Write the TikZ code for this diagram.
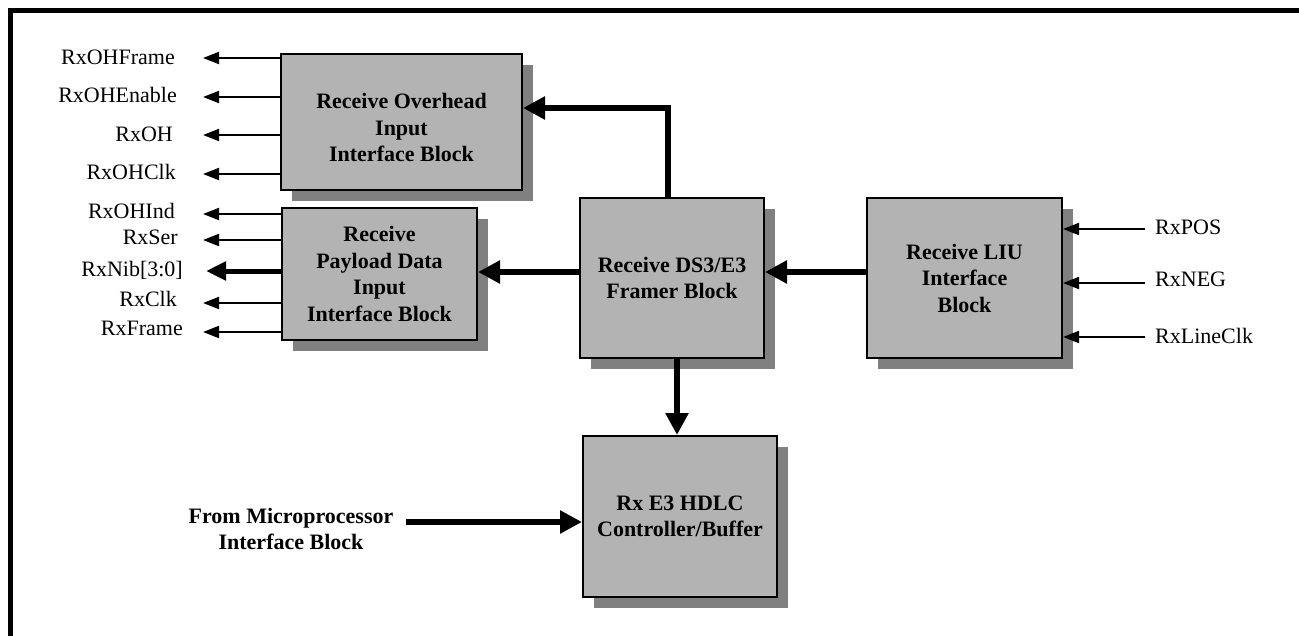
\documentclass[tikz,border=0pt]{standalone}
\usepackage{fontspec}
\setmainfont{Liberation Serif}
\usetikzlibrary{arrows.meta,shadows}
\definecolor{boxgray}{RGB}{179,179,179}
\definecolor{shadowgray}{RGB}{128,128,128}
\begin{document}
\begin{tikzpicture}[x=1pt,y=-1pt,
  blk/.style={draw=black, line width=2pt, fill=boxgray, inner sep=0pt,
    font=\fontsize{22}{26.5}\selectfont\bfseries, align=center,
    drop shadow={shadow xshift=11pt, shadow yshift=-11pt, fill=shadowgray, opacity=1}},
  btxt/.style={inner sep=0pt, font=\fontsize{22}{26.5}\selectfont\bfseries, align=center},
  sig/.style={inner sep=0pt, font=\fontsize{22}{26.5}\selectfont, text height=14.5pt, text depth=0pt},
  thinarr/.style={line width=2pt, -{Triangle[length=16pt,width=12pt]}},
  thickarr/.style={line width=6pt, -{Triangle[length=22pt,width=22pt]}},
  thickline/.style={line width=6pt}]
\useasboundingbox (0,0) rectangle (1299,635);
% frame
\draw[line width=5.5pt] (10.7,640) -- (10.7,10.7) -- (1305,10.7);

% blocks
\node[blk, minimum width=241pt, minimum height=136pt] (oh) at (401.5,122) {};
\node[btxt] (ohT) at (401.5,127.5) {Receive Overhead\\Input\\Interface Block};
\node[blk, minimum width=195pt, minimum height=132pt] (pl) at (379.5,274) {Receive\\Payload Data\\Input\\Interface Block};
\node[blk, minimum width=184pt, minimum height=160pt] (fr) at (672,278) {Receive DS3/E3\\Framer Block};
\node[blk, minimum width=195pt, minimum height=160pt] (liu) at (964.5,278) {Receive LIU\\Interface\\Block};
\node[blk, minimum width=194pt, minimum height=161pt] (hd) at (680,516.5) {Rx E3 HDLC\\Controller/Buffer};

% overhead outputs
\node[sig, anchor=east] (l1) at (175,57) {RxOHFrame};
\node[sig, anchor=east] (l2) at (177,95) {RxOHEnable};
\node[sig, anchor=east] (l3) at (173,134) {RxOH};
\node[sig, anchor=east] (l4) at (176,172) {RxOHClk};
\coordinate (t1) at (203,58);
\coordinate (t2) at (203,97);
\coordinate (t3) at (203,135);
\coordinate (t4) at (203,174);
\draw[thinarr] (oh.west |- t1) -- (t1);
\draw[thinarr] (oh.west |- t2) -- (t2);
\draw[thinarr] (oh.west |- t3) -- (t3);
\draw[thinarr] (oh.west |- t4) -- (t4);

% payload outputs
\node[sig, anchor=east] (p1) at (175,211) {RxOHInd};
\node[sig, anchor=east] (p2) at (178,237) {RxSer};
\node[sig, anchor=east] (p3) at (183,269) {RxNib[3:0]};
\node[sig, anchor=east] (p4) at (177,299) {RxClk};
\node[sig, anchor=east] (p5) at (183,328) {RxFrame};
\coordinate (u1) at (203,214);
\coordinate (u2) at (203,240);
\coordinate (u3) at (206,271);
\coordinate (u4) at (203,303);
\coordinate (u5) at (203,332);
\draw[thinarr] (pl.west |- u1) -- (u1);
\draw[thinarr] (pl.west |- u2) -- (u2);
\draw[line width=5pt, -{Triangle[length=20pt,width=18pt]}] (pl.west |- u3) -- (u3);
\draw[thinarr] (pl.west |- u4) -- (u4);
\draw[thinarr] (pl.west |- u5) -- (u5);

% LIU inputs
\node[sig, anchor=west] (r1) at (1155,227) {RxPOS};
\node[sig, anchor=west] (r2) at (1155,279) {RxNEG};
\node[sig, anchor=west] (r3) at (1155,336) {RxLineClk};
\coordinate (s1) at (1145,229);
\coordinate (s2) at (1145,283);
\coordinate (s3) at (1145,337);
\draw[thinarr] (s1) -- (liu.east |- s1);
\draw[thinarr] (s2) -- (liu.east |- s2);
\draw[thinarr] (s3) -- (liu.east |- s3);

% internal connections
\coordinate (y0) at (0,272);
\draw[thickarr] (liu.west |- y0) -- (fr.east |- y0);
\draw[thickarr] (fr.west |- y0) -- (pl.east |- y0);
\coordinate (bend) at (668,108);
\draw[thickarr] (fr.north -| bend) -- (bend) -- (oh.east |- bend);
\coordinate (vx) at (677,0);
\draw[thickarr] (fr.south -| vx) -- (hd.north -| vx);

% microprocessor input
\node[btxt] (mp) at (291,529) {From Microprocessor\\Interface Block};
\coordinate (ms) at (406,522);
\draw[thickarr] (ms) -- (hd.west |- ms);
\end{tikzpicture}
\end{document}
